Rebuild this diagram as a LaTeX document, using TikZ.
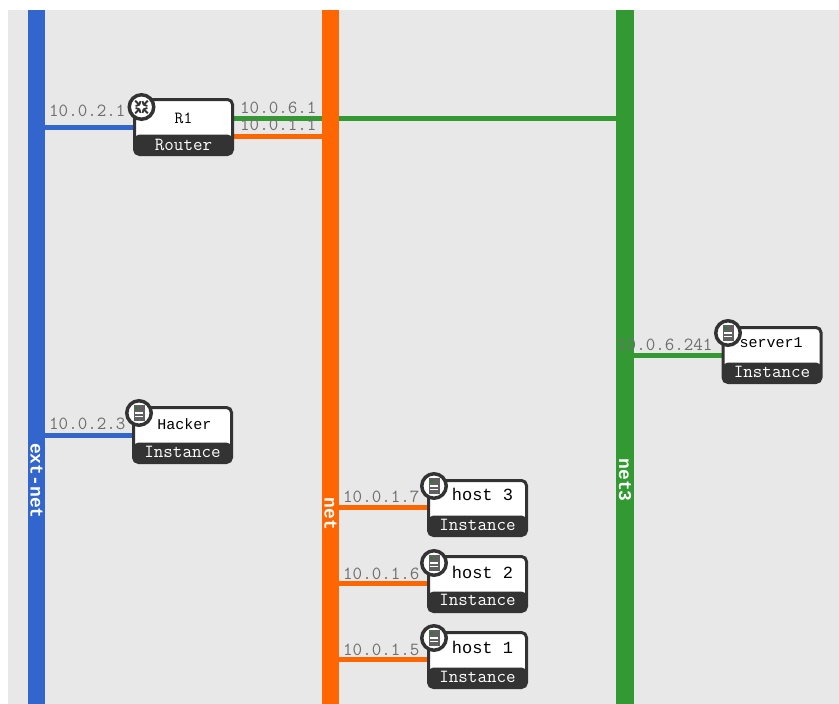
\documentclass[tikz,border=0pt]{standalone}
\usepackage{fontspec}
\setmainfont{Liberation Mono}
\setmonofont{Latin Modern Mono}
\pgfdeclarelayer{bg}
\pgfdeclarelayer{conn}
\pgfsetlayers{bg,conn,main}
\definecolor{pagegray}{HTML}{E8E8E8}
\definecolor{dark}{HTML}{333333}
\definecolor{netblue}{HTML}{3366CC}
\definecolor{netorange}{HTML}{FF6600}
\definecolor{netgreen}{HTML}{339933}
\definecolor{iptext}{HTML}{6E6E6E}
\tikzset{
  netbar/.style={rectangle,minimum width=17.5pt,minimum height=694pt,inner sep=0pt,outer sep=0pt,fill=#1},
  link/.style={line width=5pt,draw=#1},
  barlabel/.style={rotate=-90,text=white,font=\fontsize{18}{18}\selectfont\bfseries,inner sep=0pt},
  card/.style={rectangle,rounded corners=5pt,draw=dark,line width=3pt,fill=white,minimum width=98pt,minimum height=55pt,inner sep=0pt,outer sep=0pt,
    path picture={\fill[dark] ([yshift=20pt]path picture bounding box.south west) rectangle (path picture bounding box.south east);}},
  typetext/.style={text=white,font=\ttfamily\fontsize{18.5}{18.5}\selectfont,inner sep=0pt},
  titletext/.style={text=black,font=\fontsize{#1}{#1}\selectfont,inner sep=0pt},
  iconring/.style={circle,draw=dark,line width=3.5pt,fill=white,minimum size=24.5pt,inner sep=0pt,outer sep=0pt},
  iptag/.style={text=iptext,anchor=west,font=\ttfamily\fontsize{18.5}{18.5}\selectfont,inner sep=0pt},
}
\newcommand{\hostcard}[9]{%
  \node[card] (#1) at (#2,#3) {};
  \node[titletext=#8] (#1title) at (#2+#9,#4) {#6};
  \node[typetext] (#1type) at (#2,#5) {#7};
}
\newcommand{\servericon}[2]{%
  \node[iconring] (#1) at (#2) {};
  \fill[gray!75!black] ([shift={(-5.5pt,-8pt)}]#1.center) rectangle ([shift={(5.5pt,8pt)}]#1.center);
  \fill[white] ([shift={(-4pt,-4pt)}]#1.center) rectangle ([shift={(4pt,-2.5pt)}]#1.center);
  \fill[white] ([shift={(-4pt,-0.5pt)}]#1.center) rectangle ([shift={(4pt,1pt)}]#1.center);
  \fill[netgreen!80!black] ([shift={(-4pt,4.5pt)}]#1.center) rectangle ([shift={(-1.5pt,6.5pt)}]#1.center);
}
\begin{document}
\begin{tikzpicture}[x=1pt,y=-1pt]
\useasboundingbox (0,0) rectangle (839,704);
\begin{pgfonlayer}{bg}
  \fill[white] (0,0) rectangle (839,704);
  \fill[pagegray] (8,10) rectangle (839,704);
\end{pgfonlayer}

\node[netbar=netblue] (extnet) at (36.5,357) {};
\node[netbar=netorange] (net) at (330.5,357) {};
\node[netbar=netgreen] (net3) at (625,357) {};
\node[barlabel] (extnetlabel) at (36.5,481) {ext-net};
\node[barlabel] (netlabel) at (330.5,514) {net};
\node[barlabel] (net3label) at (625,480) {net3};

\hostcard{r1}{183.5}{127}{118}{145}{\ttfamily R1}{Router}{17}{0}
\hostcard{hacker}{182.5}{435}{424}{452}{Hacker}{Instance}{15}{2}
\hostcard{serverone}{772}{355}{343}{372}{server1}{Instance}{15}{-1}
\hostcard{hostc}{477.5}{508}{494}{525}{host 3}{Instance}{17}{5}
\hostcard{hostb}{477.5}{584}{572}{600}{host 2}{Instance}{17}{5}
\hostcard{hosta}{477.5}{660}{647}{677}{host 1}{Instance}{17}{5}

\begin{pgfonlayer}{conn}
  \draw[link=netblue] (r1.west |- 0,127) -- (extnet.east |- 0,127);
  \draw[link=netgreen] (r1.east |- 0,118) -- (net3.west |- 0,118);
  \draw[link=netorange] (r1.east |- 0,136) -- (net.west |- 0,136);
  \draw[link=netblue] (hacker.west |- 0,435) -- (extnet.east |- 0,435);
  \draw[link=netgreen] (serverone.west |- 0,355) -- (net3.east |- 0,355);
  \draw[link=netorange] (hostc.west |- 0,507) -- (net.east |- 0,507);
  \draw[link=netorange] (hostb.west |- 0,583) -- (net.east |- 0,583);
  \draw[link=netorange] (hosta.west |- 0,659) -- (net.east |- 0,659);
\end{pgfonlayer}

\node[iconring] (r1icon) at (141.5,107) {};
\foreach \a in {45,135,225,315}
  \draw[dark,line width=1.8pt] ([shift={(\a:3pt)}]r1icon.center) -- ([shift={(\a:9pt)}]r1icon.center)
    ([shift={(\a:3pt)}]r1icon.center) -- ([shift={(\a+35:6pt)}]r1icon.center)
    ([shift={(\a:3pt)}]r1icon.center) -- ([shift={(\a-35:6pt)}]r1icon.center);
\servericon{hackericon}{139,413}
\servericon{servericonnode}{728,333}
\servericon{hostcicon}{434,486}
\servericon{hostbicon}{434,563}
\servericon{hostaicon}{434,638}

\node[iptag] (ipa) at (49,111) {10.0.2.1};
\node[iptag] (ipb) at (240,108) {10.0.6.1};
\node[iptag] (ipc) at (240,125) {10.0.1.1};
\node[iptag] (ipd) at (49,424) {10.0.2.3};
\node[iptag] (ipe) at (617,345) {10.0.6.241};
\node[iptag] (ipf) at (343,497) {10.0.1.7};
\node[iptag] (ipg) at (343,574) {10.0.1.6};
\node[iptag] (iph) at (343,650) {10.0.1.5};
\end{tikzpicture}
\end{document}
